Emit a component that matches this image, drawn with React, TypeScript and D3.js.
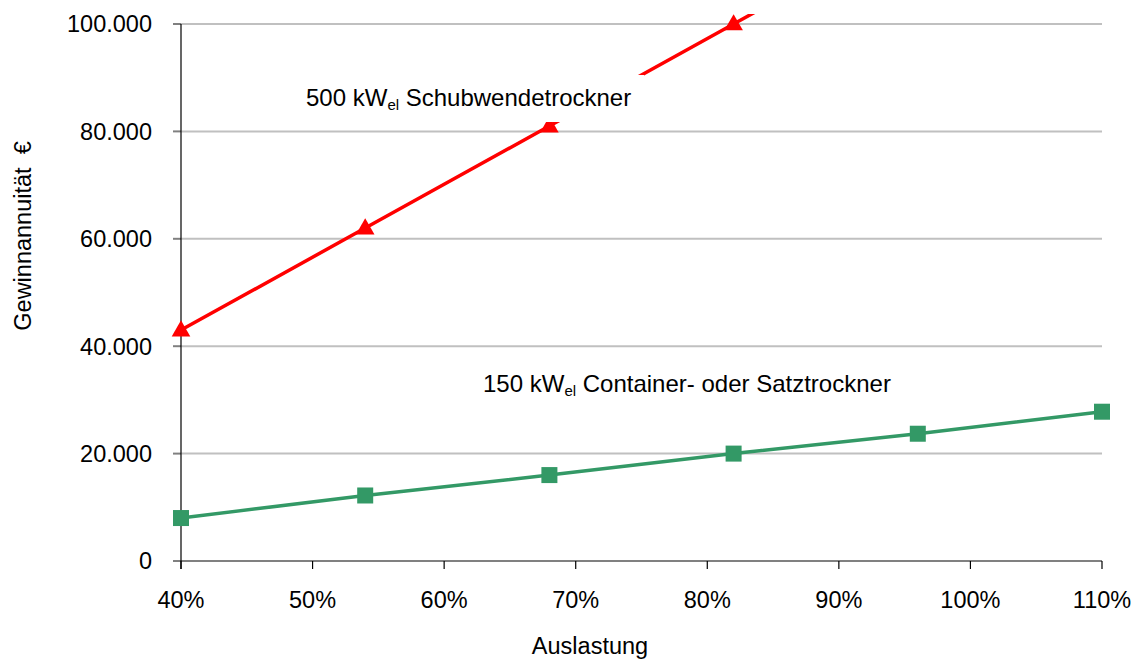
import React from 'react';
import * as d3 from 'd3';

// Auslastung (x) and Gewinnannuität in € (y)
const auslastung = [0.4, 0.54, 0.68, 0.82, 0.96, 1.1];
const schubwende500 = [43000, 62000, 81000, 100000, 119000, 138000];
const container150 = [8000, 12200, 16000, 20000, 23700, 27800];

const yTicks = [0, 20000, 40000, 60000, 80000, 100000];
const xTicks = [0.4, 0.5, 0.6, 0.7, 0.8, 0.9, 1.0, 1.1];

const W = 1142;
const H = 659;
const margin = { top: 24, right: 40, bottom: 98, left: 181 };
const font = 'Arial, "Liberation Sans", sans-serif';

const de = d3.formatLocale({ decimal: ',', thousands: '.', grouping: [3], currency: ['', ' €'] });
const fmtY = de.format(',.0f');
const fmtX = d3.format('.0%');

const App = () => {
  const x = d3.scaleLinear().domain([0.4, 1.1]).range([margin.left, W - margin.right]);
  const y = d3.scaleLinear().domain([0, 100000]).range([H - margin.bottom, margin.top]);

  const line = d3.line<number>()
    .x((_, i) => x(auslastung[i]))
    .y((d) => y(d));

  const x0 = x.range()[0];
  const x1 = x.range()[1];
  const y0 = y.range()[0];
  const y1 = y.range()[1];

  const tri = d3.symbol().type(d3.symbolTriangle).size(150)();

  return (
    <svg width={W} height={H} style={{ position: 'absolute', left: 0, top: 0, background: '#fff' }}>
      <defs>
        <clipPath id="plot">
          <rect x={0} y={y1 - 10} width={W} height={H} />
        </clipPath>
      </defs>

      {/* gridlines */}
      {yTicks.filter((t) => t > 0).map((t) => (
        <g key={t}>
          <line x1={x0} x2={x1} y1={y(t)} y2={y(t)} stroke="#c0c0c0" strokeWidth={2} />
          <line x1={x0 - 8} x2={x0} y1={y(t)} y2={y(t)} stroke="#808080" strokeWidth={2} />
        </g>
      ))}

      {/* axes */}
      <line x1={x0 - 8} x2={x1} y1={y0} y2={y0} stroke="#808080" strokeWidth={2} />
      <line x1={x0} x2={x0} y1={y1} y2={y0 + 8} stroke="#000" strokeWidth={1.2} />
      {xTicks.map((t) => (
        <line key={t} x1={x(t)} x2={x(t)} y1={y0} y2={y0 + 8} stroke="#000" strokeWidth={1.2} />
      ))}

      {/* tick labels */}
      {yTicks.map((t) => (
        <text key={t} x={x0 - 29} y={y(t)} dy="0.36em" textAnchor="end" fontFamily={font} fontSize={23.5} fill="#000">
          {fmtY(t)}
        </text>
      ))}
      {xTicks.map((t) => (
        <text key={t} x={x(t)} y={y0 + 47} textAnchor="middle" fontFamily={font} fontSize={23.5} fill="#000">
          {fmtX(t)}
        </text>
      ))}

      {/* axis titles */}
      <text x={590} y={654} textAnchor="middle" fontFamily={font} fontSize={23.5}>Auslastung</text>
      <text transform="translate(31,236) rotate(-90)" textAnchor="middle" fontFamily={font} fontSize={23.5}
        style={{ whiteSpace: 'pre' }}>
        {'Gewinnannuität  €'}
      </text>

      {/* series */}
      <g clipPath="url(#plot)">
        <path d={line(schubwende500) ?? ''} fill="none" stroke="#ff0000" strokeWidth={3.5} />
        <path d={line(container150) ?? ''} fill="none" stroke="#339966" strokeWidth={3.5} />
      </g>
      {schubwende500.map((v, i) => v <= 100000 && (
        <path key={i} d={tri ?? ''} transform={`translate(${x(auslastung[i])},${y(v) + 1})`} fill="#ff0000" />
      ))}
      {container150.map((v, i) => (
        <rect key={i} x={x(auslastung[i]) - 8} y={y(v) - 8} width={16} height={16} fill="#339966" />
      ))}

      {/* series labels with white background */}
      <rect x={296} y={75} width={348} height={47} fill="#fff" />
      <text x={306} y={106} fontFamily={font} fontSize={24} fill="#000">
        500 kW<tspan fontSize={15} dy={4}>el</tspan><tspan dy={-4}> Schubwendetrockner</tspan>
      </text>
      <text x={483} y={392} fontFamily={font} fontSize={24} fill="#000">
        150 kW<tspan fontSize={15} dy={4}>el</tspan><tspan dy={-4}> Container- oder Satztrockner</tspan>
      </text>
    </svg>
  );
};

export default App;
